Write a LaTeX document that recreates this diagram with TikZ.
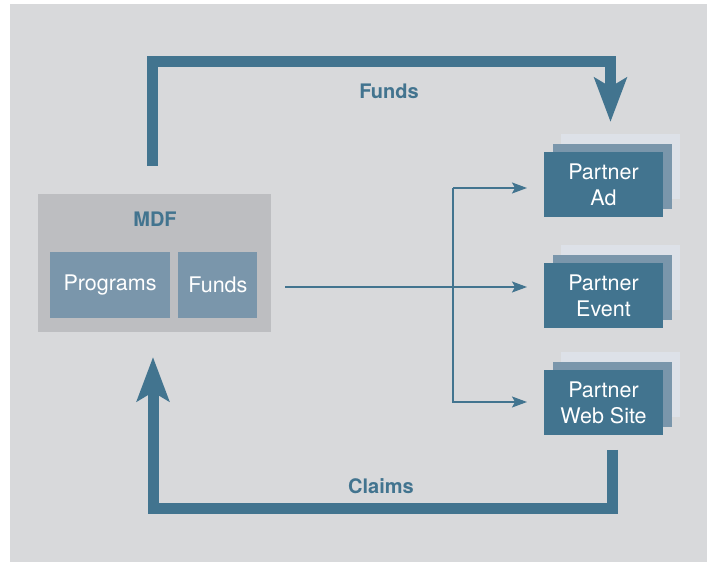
\documentclass[tikz,border=0pt]{standalone}
\usepackage{fontspec}
\setmainfont{TeX Gyre Heros}
\usetikzlibrary{arrows.meta,positioning}
\definecolor{mdfbg}{HTML}{D8D9DB}
\definecolor{mdfgray}{HTML}{BDBEC1}
\definecolor{mdfsteel}{HTML}{7A96AB}
\definecolor{mdfblue}{HTML}{42748F}
\definecolor{mdfpale}{HTML}{DDE1E8}
\tikzset{
  box/.style={fill=mdfsteel,text=white,minimum height=66pt,inner sep=0pt,
    font=\fontsize{21.5}{26}\selectfont},
  layer/.style={minimum width=119pt,minimum height=65pt,inner sep=0pt},
  partner/.style={layer,fill=mdfblue,text=white,align=center,
    font=\fontsize{21.5}{26}\selectfont},
  lbl/.style={text=mdfblue,font=\fontsize{20}{24}\selectfont\bfseries},
  bigflow/.style={draw=mdfblue,line width=11pt,
    -{Stealth[length=44pt,width=32pt,inset=9pt]}},
  flow/.style={draw=mdfblue,line width=1.3pt,
    -{Stealth[length=15pt,width=11pt,inset=3pt]}}
}

\begin{document}
\begin{tikzpicture}[x=1pt,y=1pt]
    \useasboundingbox (0,0) rectangle (713,565);
    \fill[mdfbg] (10,3) rectangle (707,561);
    % MDF block
    \node[fill=mdfgray,minimum width=233pt,minimum height=138pt] (mdf) at (154.5,302) {};
    \node[lbl] (mdftitle) at (155,346) {MDF};
    \node[box,minimum width=120pt] (programs) at (110,280) {Programs};
    \node[box,minimum width=79pt,right=8pt of programs] (funds) {Funds};
    % partners, stacked
    \foreach \name/\ypos/\txt in {ad/380.5/Ad,event/269.5/Event,web/162.5/Web Site}
    {
    \node[layer,fill=mdfpale] at (620.5,\ypos+18) {};
    \node[layer,fill=mdfsteel] at (612.5,\ypos+8) {};
    \node[partner] (\name) at (603.5,\ypos) {Partner\\\txt};
    }
    % thin flows
    \coordinate (out) at (285,278);
    \coordinate (fork) at (453,278);
    \coordinate (adin) at (527,377);
    \coordinate (eventin) at (527,278);
    \coordinate (webin) at (527,163);
    \draw[flow] (out) -- (eventin);
    \draw[flow] (fork |- adin) -- (adin);
    \draw[flow] (fork |- adin) -- (fork |- webin) -- (webin);
    % funds and claims
    \coordinate (fundsout) at (152.5,399);
    \coordinate (fundsin) at (610.5,443);
    \draw[bigflow] (fundsout) -- ++(0,104.5) -| (fundsin);
    \node[lbl] (fundslabel) at (389,474) {Funds};
    \coordinate (claimsout) at (612,115);
    \coordinate (claimsin) at (153,208);
    \draw[bigflow] (claimsout) -- ++(0,-59) -| (claimsin);
    \node[lbl] (claimslabel) at (381,79) {Claims};
\end{tikzpicture}
\end{document}
